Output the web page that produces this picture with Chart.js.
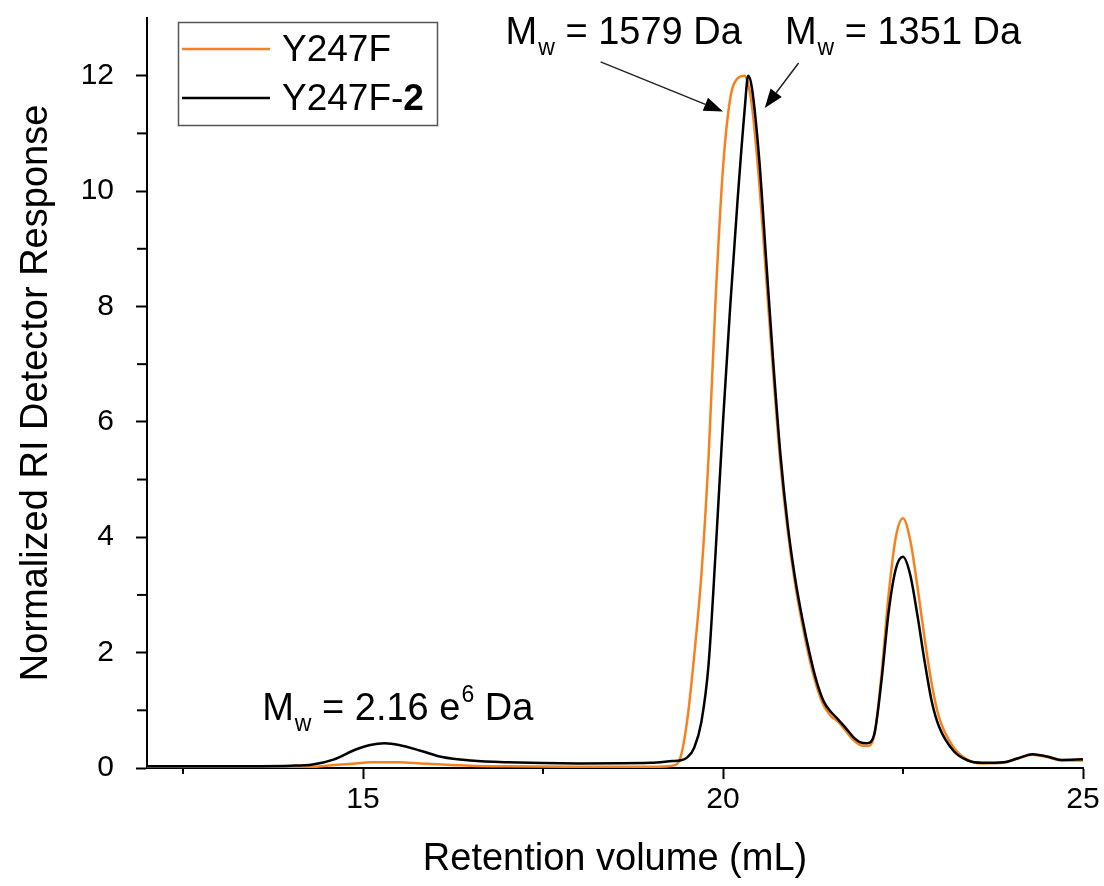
<!DOCTYPE html>
<html lang="en">
<head>
<meta charset="UTF-8">
<title>RI detector response vs retention volume</title>
<script src="https://cdn.jsdelivr.net/npm/chart.js"></script>
<style>
    body {
        margin: 0;
        padding: 0;
        background: #ffffff;
    }
    .chart-box {
        width: 1104px;
        height: 886px;
    }
</style>
</head>
<body>
<div class="chart-box">
    <canvas id="gpcChart"></canvas>
</div>

<script>
    // retention volume (mL)
    const volume = [12, 13, 14, 14.3, 14.6, 14.9, 15.1, 15.3, 15.5, 15.8, 16.1, 16.5, 17, 18, 19, 19.3,
        19.4, 19.5, 19.6, 19.7, 19.8, 19.9, 20.0, 20.1, 20.2, 20.3, 20.35, 20.4, 20.5, 20.6, 20.7, 20.8,
        20.9, 21.0, 21.1, 21.2, 21.3, 21.4, 21.5, 21.6, 21.7, 21.8, 21.9, 22.0, 22.1, 22.2, 22.3, 22.4,
        22.5, 22.6, 22.7, 22.8, 22.9, 23.0, 23.2, 23.4, 23.6, 23.9, 24.1, 24.3, 24.5, 24.7, 25];

    const y247f = [0.02, 0.02, 0.02, 0.02, 0.05, 0.08, 0.10, 0.10, 0.10, 0.08, 0.06, 0.04, 0.03, 0.02, 0.02, 0.04,
        0.15, 0.8, 1.95, 3.35, 5.4, 8.2, 10.4, 11.6, 11.95, 12.0, 11.85, 11.5, 10.2, 8.5, 6.8, 5.25,
        4.1, 3.2, 2.5, 1.9, 1.42, 1.08, 0.9, 0.8, 0.65, 0.5, 0.4, 0.38, 0.56, 1.6, 3.0, 4.0,
        4.33, 3.95, 3.15, 2.25, 1.45, 0.88, 0.36, 0.14, 0.08, 0.09, 0.17, 0.23, 0.19, 0.13, 0.13];

    const y247f2 = [0.03, 0.03, 0.04, 0.06, 0.15, 0.32, 0.40, 0.43, 0.40, 0.30, 0.19, 0.13, 0.10, 0.08, 0.09, 0.12,
        0.13, 0.18, 0.35, 0.8, 1.8, 3.8, 6.0, 8.0, 9.8, 11.4, 12.0, 11.8, 10.6, 8.8, 7.0, 5.4,
        4.2, 3.3, 2.6, 2.0, 1.5, 1.15, 0.97, 0.84, 0.7, 0.55, 0.45, 0.43, 0.58, 1.5, 2.7, 3.45,
        3.66, 3.35, 2.65, 1.85, 1.15, 0.72, 0.3, 0.13, 0.09, 0.1, 0.17, 0.24, 0.2, 0.14, 0.15];

    const xMajorTicks = [15, 20, 25];
    const xMinorTicks = [12.5, 17.5, 22.5];
    const yMajorTicks = [0, 2, 4, 6, 8, 10, 12];
    const yMinorTicks = [1, 3, 5, 7, 9, 11];

    const seriesNames = ["Y247F", "Y247F-2"];
    const seriesColors = ["#f5821f", "#000000"];

    // Mw labels: [x, y] in data units
    const mwLabels = [
        { at: [16.98, 12.55], sub: "w", rest: " = 1579 Da" },
        { at: [20.86, 12.55], sub: "w", rest: " = 1351 Da" },
        { at: [13.6, 0.83], sub: "w", rest: " = 2.16 e", sup: "6", tail: " Da" }
    ];
    const arrows = [
        { from: [18.3, 12.24], to: [20.0, 11.38] },
        { from: [21.05, 12.22], to: [20.58, 11.44] }
    ];

    const FONT = "'Liberation Sans', Arial, sans-serif";

    const extras = {
        id: "extras",
        afterDraw(chart) {
            const ctx = chart.ctx;
            const xs = chart.scales.x, ys = chart.scales.y;
            ctx.save();
            ctx.strokeStyle = "#000";
            ctx.lineWidth = 2;
            // minor ticks
            const bottom = chart.chartArea.bottom, left = chart.chartArea.left;
            xMinorTicks.forEach(v => {
                const px = xs.getPixelForValue(v);
                ctx.beginPath(); ctx.moveTo(px, bottom); ctx.lineTo(px, bottom + 6); ctx.stroke();
            });
            yMinorTicks.forEach(v => {
                const py = ys.getPixelForValue(v);
                ctx.beginPath(); ctx.moveTo(left, py); ctx.lineTo(left - 10, py); ctx.stroke();
            });

            // legend
            ctx.lineWidth = 1.5;
            ctx.strokeStyle = "#555";
            ctx.strokeRect(178.5, 22.5, 259, 103);
            ctx.font = "37px " + FONT;
            ctx.textBaseline = "middle";
            ctx.fillStyle = "#000";
            [49, 98].forEach((ly, i) => {
                ctx.strokeStyle = seriesColors[i];
                ctx.lineWidth = 2.5;
                ctx.beginPath(); ctx.moveTo(182, ly); ctx.lineTo(270, ly); ctx.stroke();
            });
            ctx.fillText(seriesNames[0], 282, 51);
            const base = seriesNames[1].slice(0, -1);
            ctx.fillText(base, 282, 100);
            const w = ctx.measureText(base).width;
            ctx.font = "bold 37px " + FONT;
            ctx.fillText(seriesNames[1].slice(-1), 282 + w, 100);

            // Mw annotations
            ctx.textBaseline = "alphabetic";
            mwLabels.forEach(l => {
                let px = xs.getPixelForValue(l.at[0]);
                const py = ys.getPixelForValue(l.at[1]);
                ctx.font = "38px " + FONT;
                ctx.fillText("M", px, py);
                px += ctx.measureText("M").width + 1;
                ctx.font = "23px " + FONT;
                ctx.fillText(l.sub, px, py + 11);
                px += ctx.measureText(l.sub).width;
                ctx.font = "38px " + FONT;
                ctx.fillText(l.rest, px, py);
                px += ctx.measureText(l.rest).width;
                if (l.sup) {
                    ctx.font = "23px " + FONT;
                    ctx.fillText(l.sup, px + 1, py - 18);
                    px += ctx.measureText(l.sup).width + 1;
                    ctx.font = "38px " + FONT;
                    ctx.fillText(l.tail, px, py);
                }
            });

            // arrows
            ctx.strokeStyle = "#222";
            ctx.fillStyle = "#000";
            ctx.lineWidth = 1.5;
            arrows.forEach(a => {
                const x1 = xs.getPixelForValue(a.from[0]), y1 = ys.getPixelForValue(a.from[1]);
                const x2 = xs.getPixelForValue(a.to[0]), y2 = ys.getPixelForValue(a.to[1]);
                const ang = Math.atan2(y2 - y1, x2 - x1);
                const hl = 19, hw = 7;
                ctx.beginPath(); ctx.moveTo(x1, y1);
                ctx.lineTo(x2 - hl * Math.cos(ang), y2 - hl * Math.sin(ang)); ctx.stroke();
                ctx.beginPath();
                ctx.moveTo(x2, y2);
                ctx.lineTo(x2 - hl * Math.cos(ang) + hw * Math.sin(ang), y2 - hl * Math.sin(ang) - hw * Math.cos(ang));
                ctx.lineTo(x2 - hl * Math.cos(ang) - hw * Math.sin(ang), y2 - hl * Math.sin(ang) + hw * Math.cos(ang));
                ctx.closePath(); ctx.fill();
            });
            ctx.restore();
        }
    };

    const ctx = document.getElementById("gpcChart").getContext("2d");
    new Chart(ctx, {
        type: "line",
        data: {
            datasets: [
                {
                    label: seriesNames[0],
                    data: volume.map((v, i) => ({ x: v, y: y247f[i] })),
                    borderColor: seriesColors[0],
                    borderWidth: 2.5,
                    pointRadius: 0,
                    cubicInterpolationMode: "monotone",
                    order: 1
                },
                {
                    label: seriesNames[1],
                    data: volume.map((v, i) => ({ x: v, y: y247f2[i] })),
                    borderColor: seriesColors[1],
                    borderWidth: 2.5,
                    pointRadius: 0,
                    cubicInterpolationMode: "monotone",
                    order: 0
                }
            ]
        },
        options: {
            responsive: true,
            maintainAspectRatio: false,
            animation: false,
            layout: { padding: { top: 18, right: 21, left: 0, bottom: 0 } },
            plugins: { legend: { display: false }, tooltip: { enabled: false } },
            scales: {
                x: {
                    type: "linear",
                    min: 12,
                    max: 25,
                    afterBuildTicks: s => { s.ticks = xMajorTicks.map(v => ({ value: v })); },
                    afterFit: s => { s.height = 118; s.paddingLeft = 0; s.paddingRight = 0; },
                    grid: { drawOnChartArea: false, drawTicks: true, tickLength: 11, tickColor: "#000", tickWidth: 2 },
                    border: { display: true, color: "#000", width: 2 },
                    ticks: { color: "#000", font: { family: FONT, size: 30 }, padding: 3, maxRotation: 0 },
                    title: { display: true, text: "Retention volume (mL)", color: "#000", font: { family: FONT, size: 38 }, padding: { top: 4 } }
                },
                y: {
                    min: 0,
                    max: 13,
                    afterBuildTicks: s => { s.ticks = yMajorTicks.map(v => ({ value: v })); },
                    afterFit: s => { s.width = 147; s.paddingTop = 0; s.paddingBottom = 0; },
                    grid: { drawOnChartArea: false, drawTicks: true, tickLength: 11, tickColor: "#000", tickWidth: 2 },
                    border: { display: true, color: "#000", width: 2 },
                    ticks: { color: "#000", font: { family: FONT, size: 30 }, padding: 22 },
                    title: { display: true, text: "Normalized RI Detector Response", color: "#000", font: { family: FONT, size: 38 }, padding: { top: 14 } }
                }
            }
        },
        plugins: [extras]
    });
</script>
</body>
</html>
